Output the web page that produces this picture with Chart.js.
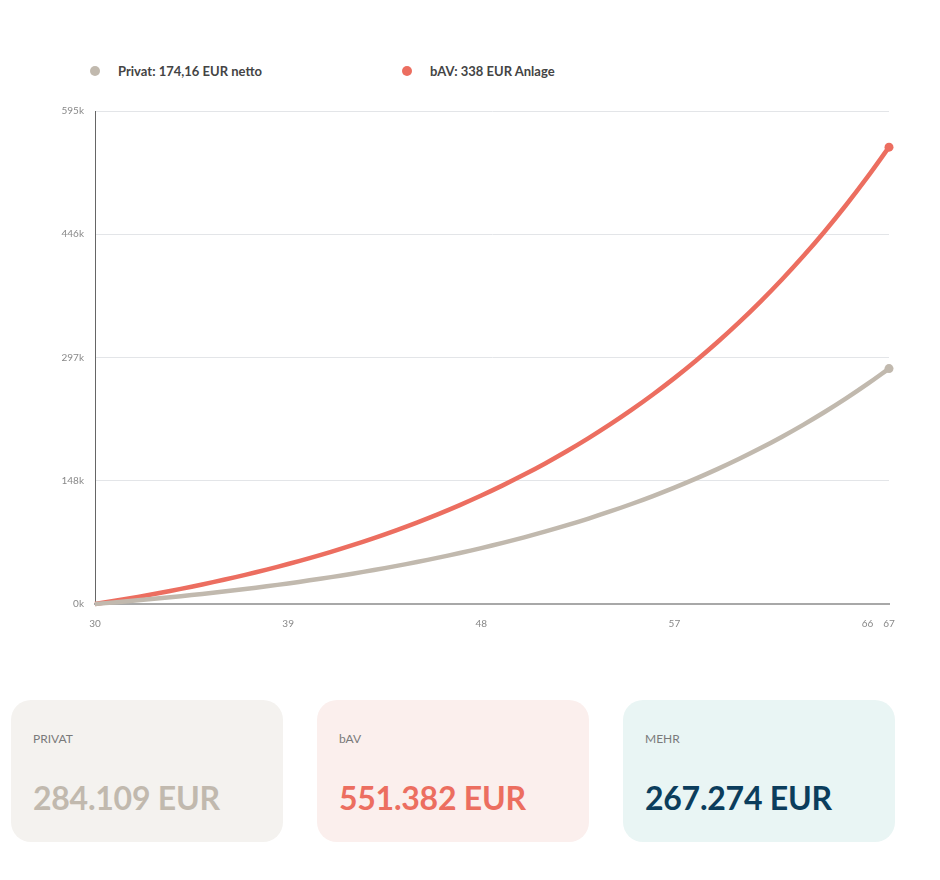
<!DOCTYPE html>
<html>
<head>
<meta charset="utf-8">
<script src="https://cdn.jsdelivr.net/npm/chart.js@4"></script>
<style>
  body { margin: 0; background: #fff; font-family: Lato, sans-serif; }
  #wrap { position: relative; width: 940px; height: 880px; }
  #legend { position: absolute; left: 90px; top: 63px; display: flex; }
  .lg { display: flex; align-items: center; font-size: 13px; font-weight: bold; color: #444; width: 312px; }
  .lg .dot { width: 10px; height: 10px; border-radius: 50%; margin-right: 18px; }
  #chartBox { position: absolute; left: 0; top: 94px; width: 910px; height: 540px; }
  .card { position: absolute; top: 700px; width: 272px; height: 142px; border-radius: 20px; box-sizing: border-box; }
  .card .lbl { position: absolute; left: 22px; top: 31px; font-size: 12px; color: #7a7a7a; }
  .card .val { position: absolute; left: 22px; top: 78px; font-size: 32px; font-weight: bold; letter-spacing: -0.25px; }
</style>
</head>
<body>
<div id="wrap">
  <div id="legend"></div>
  <div id="chartBox"><canvas id="chart"></canvas></div>
  <div id="cards"></div>
</div>
<script>
const ages = [30,31,32,33,34,35,36,37,38,39,40,41,42,43,44,45,46,47,48,49,50,51,52,53,54,55,56,57,58,59,60,61,62,63,64,65,66,67];
const privatValues = [0,2148,4429,6851,9422,12151,15049,18126,21392,24860,28541,32450,36600,41006,45683,50649,55921,61519,67462,73771,80470,87581,95131,103146,111657,120692,130284,140468,151280,162759,174946,187885,201622,216206,231689,248128,265580,284109];
const bavValues = [0,4169,8596,13296,18285,23582,29206,35177,41516,48246,55391,62977,71031,79581,88659,98297,108529,119392,130925,143170,156170,169971,184624,200181,216697,234232,252848,272613,293596,315874,339526,364637,391296,419600,449649,481552,515422,551382];
const xTicks = [30, 39, 48, 57, 66, 67];
const yTicks = [0, 148750, 297500, 446250, 595000];
const seriesLabels = ['Privat: 174,16 EUR netto', 'bAV: 338 EUR Anlage'];
const seriesColors = ['#c1b9ae', '#ec6e60'];
const cardLabels = ['PRIVAT', 'bAV', 'MEHR'];
const cardValues = ['284.109 EUR', '551.382 EUR', '267.274 EUR'];
const cardBg = ['#f4f2ef', '#fbefed', '#e9f5f4'];
const cardColors = ['#c1b9ae', '#ec6e60', '#0b3d5c'];
const cardLeft = [11, 317, 623];

const legend = document.getElementById('legend');
seriesLabels.forEach(function(l, i) {
  const d = document.createElement('div');
  d.className = 'lg';
  d.innerHTML = '<span class="dot" style="background:' + seriesColors[i] + '"></span>' + l;
  legend.appendChild(d);
});

const cards = document.getElementById('cards');
cardLabels.forEach(function(l, i) {
  const c = document.createElement('div');
  c.className = 'card';
  c.style.left = cardLeft[i] + 'px';
  c.style.background = cardBg[i];
  c.innerHTML = '<div class="lbl">' + l + '</div><div class="val" style="color:' + cardColors[i] + '">' + cardValues[i] + '</div>';
  cards.appendChild(c);
});

// only the last point of each line gets a dot
function lastOnly(r) { return ages.map(function(a, i) { return i === ages.length - 1 ? r : 0; }); }

const ctx = document.getElementById('chart').getContext('2d');
const chart = new Chart(ctx, {
  type: 'line',
  data: {
    datasets: [{
      label: seriesLabels[0],
      data: ages.map(function(a, i) { return { x: a, y: privatValues[i] }; }),
      borderColor: seriesColors[0],
      backgroundColor: seriesColors[0],
      borderWidth: 4.5,
      pointBorderWidth: 0,
      pointRadius: lastOnly(4.5),
      tension: 0.4,
      clip: false
    }, {
      label: seriesLabels[1],
      data: ages.map(function(a, i) { return { x: a, y: bavValues[i] }; }),
      borderColor: seriesColors[1],
      backgroundColor: seriesColors[1],
      borderWidth: 4.5,
      pointBorderWidth: 0,
      pointRadius: lastOnly(4.5),
      tension: 0.4,
      clip: false
    }]
  },
  options: {
    responsive: true,
    maintainAspectRatio: false,
    animation: false,
    layout: { autoPadding: false, padding: { top: 5, right: 21, left: 0, bottom: 0 } },
    plugins: {
      legend: { display: false },
      tooltip: { enabled: false }
    },
    scales: {
      x: {
        type: 'linear',
        min: 30,
        max: 67,
        afterFit: function(scale) { scale.height = 30; },
        afterBuildTicks: function(scale) { scale.ticks = xTicks.map(function(v) { return { value: v }; }); },
        grid: { display: false, drawTicks: false },
        border: { display: true, color: '#a8a8a8', width: 2 },
        ticks: {
          padding: 14,
          color: '#888',
          font: { family: 'Lato', size: 10 }
        }
      },
      y: {
        min: 0,
        max: 595000,
        afterFit: function(scale) { scale.width = 95; },
        afterBuildTicks: function(scale) { scale.ticks = yTicks.map(function(v) { return { value: v }; }); },
        grid: { color: '#e3e5e8', drawTicks: false },
        border: { display: true, color: '#666', width: 1 },
        ticks: {
          padding: 11,
          color: '#888',
          font: { family: 'Lato', size: 10 },
          callback: function(v) { return Math.floor(v / 1000) + 'k'; }
        }
      }
    }
  }
});
</script>
</body>
</html>
